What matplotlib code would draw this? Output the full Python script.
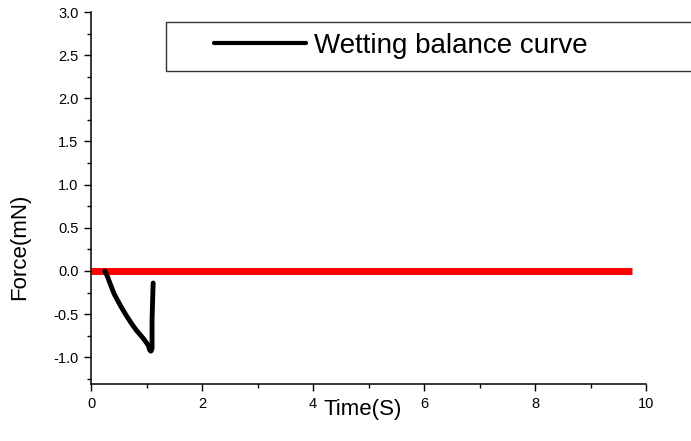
import matplotlib
matplotlib.use("Agg")
import matplotlib.pyplot as plt
import matplotlib.patches as mpatches
from matplotlib.ticker import MultipleLocator

plt.rcParams['font.family'] = ['Liberation Sans', 'DejaVu Sans']
plt.rcParams['axes.unicode_minus'] = False

# wetting balance curve
time_s = [0.25, 0.30, 0.34, 0.42, 0.52, 0.62, 0.72, 0.82, 0.94, 1.03, 1.06, 1.08, 1.10, 1.10, 1.11, 1.12]
force_mn = [0.00, -0.07, -0.14, -0.27, -0.39, -0.50, -0.60, -0.69, -0.78, -0.86, -0.92, -0.93, -0.90, -0.57, -0.35, -0.14]

# zero baseline
base_t = [0.0, 9.75]
base_f = [0.0, 0.0]

fig = plt.figure(figsize=(6.91, 4.41), dpi=100)
ax = fig.add_axes([91/691, 1 - 384/441, (646 - 91)/691, (384 - 12)/441])

ax.plot(base_t, base_f, color='#ff0000', lw=5, solid_capstyle='butt', zorder=2)
ax.plot(time_s, force_mn, color='black', lw=3.5, solid_capstyle='round',
        solid_joinstyle='round', label='Wetting balance curve', zorder=3)

ax.set_xlim(0, 10)
ax.set_ylim(-1.31, 3.0)
ax.xaxis.set_major_locator(MultipleLocator(2))
ax.xaxis.set_minor_locator(MultipleLocator(1))
ax.yaxis.set_major_locator(MultipleLocator(0.5))
ax.yaxis.set_minor_locator(MultipleLocator(0.25))
ax.tick_params(which='major', direction='out', length=5, width=1, labelsize=10.5, pad=4)
ax.tick_params(which='minor', direction='out', length=3, width=1)

for s in ['top', 'right']:
    ax.spines[s].set_visible(False)
for s in ['left', 'bottom']:
    ax.spines[s].set_linewidth(1.1)

ax.set_xlabel('Time(S)', fontsize=16, labelpad=0)
ax.set_ylabel('Force(mN)', fontsize=16)
ax.xaxis.set_label_coords(0.49, -0.04)
ax.xaxis.label.set_va('top')
ax.yaxis.set_label_coords(-0.11, 0.37)

# legend box, runs off the right edge like in the original
box = mpatches.Rectangle((166/691, 1 - 71/441), 0.8, 49/441, transform=fig.transFigure,
                         facecolor='white', edgecolor='#333333', lw=1, clip_on=False, zorder=5)
fig.add_artist(box)
leg = fig.legend(loc='center left', bbox_to_anchor=(214/691, 1 - 46/441),
                 frameon=False, fontsize=20, handlelength=3.3, handletextpad=0.3,
                 borderpad=0, borderaxespad=0)
leg.get_lines()[0].set_linewidth(3)
leg.set_zorder(6)

fig.savefig('out.png', dpi=100)
